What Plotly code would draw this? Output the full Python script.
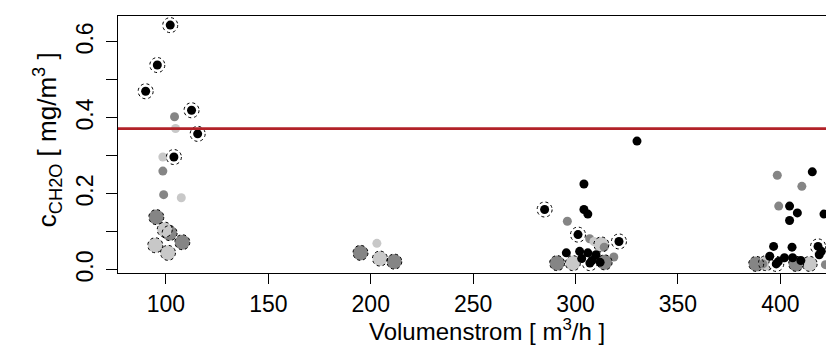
import plotly.graph_objects as go

# ---- data (x = Volumenstrom [m3/h], y = c_CH2O [mg/m3]) ----
black_dot_x = [330.0, 304.1, 304.1, 306.0, 295.5, 302.0, 306.0, 310.0, 303.0, 308.0, 312.0,
               415.6, 404.5, 408.3, 421.3, 404.5, 396.7, 405.7, 406.0, 394.8, 402.0, 420.0, 419.0, 410.0, 399.0]
black_dot_y = [0.339, 0.226, 0.159, 0.147, 0.045, 0.049, 0.045, 0.040, 0.030, 0.025, 0.020,
               0.258, 0.168, 0.150, 0.147, 0.130, 0.062, 0.060, 0.032, 0.036, 0.032, 0.049, 0.040, 0.025, 0.022]

dark_dot_x = [104.2, 98.5, 98.9, 296.0, 306.9, 318.7, 314.0, 398.5, 410.5, 399.2, 422.0, 391.5]
dark_dot_y = [0.403, 0.260, 0.198, 0.128, 0.082, 0.034, 0.060, 0.249, 0.220, 0.168, 0.014, 0.016]

light_dot_x = [104.7, 98.5, 107.5, 203.0, 309.0]
light_dot_y = [0.372, 0.297, 0.190, 0.070, 0.075]

black_ring_x = [90.1, 95.8, 102.1, 112.5, 115.5, 103.9, 284.9, 301.2, 321.2, 307.0, 418.4, 398.0]
black_ring_y = [0.470, 0.539, 0.644, 0.420, 0.358, 0.297, 0.159, 0.093, 0.075, 0.018, 0.062, 0.016]

dark_ring_x = [95.3, 101.8, 108.0, 195.0, 211.5, 291.0, 314.2, 388.2, 407.7]
dark_ring_y = [0.139, 0.097, 0.073, 0.045, 0.022, 0.018, 0.020, 0.016, 0.016]

light_ring_x = [99.4, 94.8, 101.0, 204.5, 312.6, 298.7, 414.3, 393.0]
light_ring_y = [0.106, 0.065, 0.045, 0.030, 0.067, 0.018, 0.016, 0.018]

threshold = 0.372

x_ticks = [100, 150, 200, 250, 300, 350, 400]
y_ticks = [0.0, 0.2, 0.4, 0.6]
y_ticktext = ["0.0", "0.2", "0.4", "0.6"]
y_minor_ticks = [0.1, 0.3, 0.5]

BLACK = "#000000"
DARK = "#858585"
LIGHT = "#c8c8c8"
FONT = "Liberation Sans, Arial, sans-serif"

fig = go.Figure()

def add(x, y, color, size):
    fig.add_trace(go.Scatter(x=x, y=y, mode="markers", hoverinfo="skip",
                             marker=dict(color=color, size=size, line=dict(width=0)),
                             showlegend=False, cliponaxis=False))

# ring fills
add(dark_ring_x, dark_ring_y, DARK, 15)
add(light_ring_x, light_ring_y, LIGHT, 15)
add(black_ring_x, black_ring_y, "#ffffff", 15)
# plain dots
add(dark_dot_x, dark_dot_y, DARK, 9)
add(light_dot_x, light_dot_y, LIGHT, 9)
add(black_dot_x, black_dot_y, BLACK, 9)
# black centres of ringed points
add(black_ring_x, black_ring_y, BLACK, 9)

shapes = []
for xs, ys in [(dark_ring_x, dark_ring_y), (light_ring_x, light_ring_y), (black_ring_x, black_ring_y)]:
    for xv, yv in zip(xs, ys):
        shapes.append(dict(type="circle", xref="x", yref="y", xsizemode="pixel", ysizemode="pixel",
                           xanchor=xv, yanchor=yv, x0=-7.5, x1=7.5, y0=-7.5, y1=7.5,
                           line=dict(color="black", width=1, dash="dot"), layer="above"))
shapes.append(dict(type="line", xref="paper", yref="y", x0=0, x1=1, y0=threshold, y1=threshold,
                   line=dict(color="#b22228", width=2.8), layer="above"))

fig.update_layout(
    width=834, height=351,
    margin=dict(l=110, r=0, t=8, b=86),
    paper_bgcolor="white", plot_bgcolor="white",
    font=dict(family=FONT, size=23, color="black"),
    shapes=shapes,
    xaxis=dict(range=[76.6, 430.1], tickvals=x_ticks, ticks="outside", ticklen=10, tickwidth=1,
               tickcolor="black", showline=True, linecolor="black", linewidth=1, mirror=True,
               showgrid=False, zeroline=False, tickfont=dict(size=23)),
    yaxis=dict(range=[-0.008, 0.668], tickvals=y_ticks, ticktext=y_ticktext, ticks="outside",
               ticklen=11, tickwidth=1, tickcolor="black", showline=True, linecolor="black",
               linewidth=1, showgrid=False, zeroline=False, tickangle=-90, tickfont=dict(size=23),
               ticklabelstandoff=4,
               minor=dict(tickmode="array", tickvals=y_minor_ticks, ticks="outside", ticklen=11,
                          tickwidth=1, tickcolor="black", showgrid=False)),
    annotations=[
        dict(text="Volumenstrom [ m<sup>3</sup>/h ]", xref="paper", yref="paper",
             x=0.51, y=-0.222, xanchor="center", yanchor="middle", showarrow=False,
             font=dict(size=24)),
        dict(text="c<sub>CH2O</sub> [ mg/m<sup>3</sup> ]", xref="paper", yref="paper",
             x=-0.097, y=0.52, xanchor="center", yanchor="middle", textangle=-90,
             showarrow=False, font=dict(size=26)),
    ],
)

fig.write_html("out.html")
